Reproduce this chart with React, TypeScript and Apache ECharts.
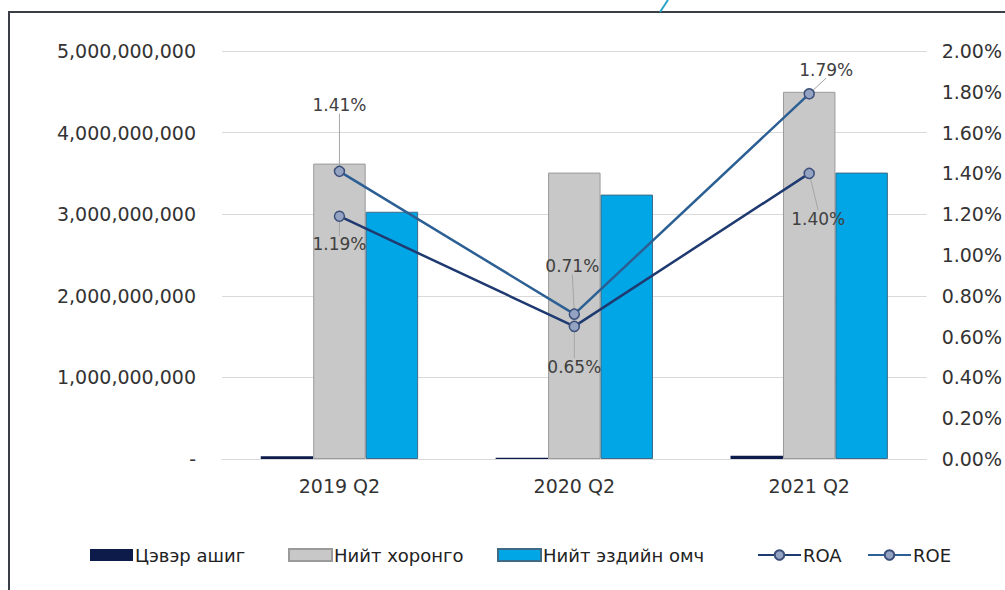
import React, { useEffect, useRef } from "react";
import * as echarts from "echarts";

const categories = ["2019 Q2", "2020 Q2", "2021 Q2"];
const netProfit = [35000000, 15000000, 40000000];
const totalAssets = [3620000000, 3510000000, 4500000000];
const totalEquity = [3030000000, 3240000000, 3510000000];
const roa = [1.19, 0.65, 1.4];
const roe = [1.41, 0.71, 1.79];
const seriesNames = ["Цэвэр ашиг", "Нийт хоронго", "Нийт эздийн омч", "ROA", "ROE"];
const legendLefts = [90, 288, 497, 757, 867];

const roeShift = [
  { dx: 0, dy: -47 },
  { dx: -2, dy: -29 },
  { dx: 17, dy: -5 },
];
const roaShift = [
  { dx: 0, dy: 9 },
  { dx: 0, dy: 21 },
  { dx: 9, dy: 26 },
];

const FONT = "'DejaVu Sans', sans-serif";

export default function App() {
  const ref = useRef<HTMLDivElement>(null);
  useEffect(() => {
    document.body.style.margin = "0";
    const chart = echarts.init(ref.current!, null, { renderer: "svg" });
    const labelCommon = {
      show: true,
      fontFamily: FONT,
      fontSize: 17,
      color: "#404040",
      formatter: (p: any) => Number(p.value).toFixed(2) + "%",
    };
    const legends = seriesNames.map((name, i) => ({
      bottom: 26,
      left: legendLefts[i],
      padding: 0,
      itemWidth: 43,
      itemHeight: 12,
      icon: i < 3 ? "rect" : undefined,
      textStyle: { fontFamily: FONT, fontSize: 18, color: "#222", padding: [0, 0, 0, -3] },
      data: [name],
    }));
    chart.setOption({
      animation: false,
      textStyle: { fontFamily: FONT },
      graphic: [
        {
          type: "rect",
          shape: { x: 9, y: 12, width: 1010, height: 600 },
          style: { fill: "none", stroke: "#3a3f47", lineWidth: 2 },
          silent: true,
          z: -1,
        },
        {
          type: "line",
          shape: { x1: 668, y1: 0, x2: 660, y2: 12 },
          style: { stroke: "#2aa6c8", lineWidth: 2 },
          silent: true,
        },
      ],
      grid: { left: 222, right: 77, top: 51, bottom: 131, containLabel: false },
      legend: legends,
      xAxis: {
        type: "category",
        data: categories,
        axisLine: { show: true, lineStyle: { color: "#d9d9d9", width: 1 } },
        axisTick: { show: false },
        axisLabel: { fontFamily: FONT, fontSize: 19, color: "#333", margin: 17 },
      },
      yAxis: [
        {
          type: "value",
          min: 0,
          max: 5000000000,
          interval: 1000000000,
          axisLine: { show: false },
          axisTick: { show: false },
          splitLine: { lineStyle: { color: "#d9d9d9", width: 1 } },
          axisLabel: {
            fontFamily: FONT,
            fontSize: 19,
            color: "#333",
            margin: 26,
            formatter: (v: number) => (v === 0 ? "-" : v.toLocaleString("en-US")),
          },
        },
        {
          type: "value",
          min: 0,
          max: 2,
          interval: 0.2,
          axisLine: { show: false },
          axisTick: { show: false },
          splitLine: { show: false },
          axisLabel: {
            fontFamily: FONT,
            fontSize: 19,
            color: "#333",
            margin: 15,
            formatter: (v: number) => v.toFixed(2) + "%",
          },
        },
      ],
      series: [
        {
          name: seriesNames[0],
          type: "bar",
          data: netProfit,
          barGap: "0%",
          barCategoryGap: "33%",
          itemStyle: { color: "#0d1b4a" },
        },
        {
          name: seriesNames[1],
          type: "bar",
          data: totalAssets,
          itemStyle: { color: "#c8c8c8", borderColor: "#9a9a9a", borderWidth: 1 },
        },
        {
          name: seriesNames[2],
          type: "bar",
          data: totalEquity,
          itemStyle: { color: "#00a6e6", borderColor: "#3f6a86", borderWidth: 1 },
        },
        {
          name: seriesNames[3],
          type: "line",
          yAxisIndex: 1,
          data: roa,
          symbol: "circle",
          symbolSize: 10,
          lineStyle: { color: "#1f3a70", width: 2.5 },
          itemStyle: { color: "#95a3c2", borderColor: "#3b4f7a", borderWidth: 1.5 },
          label: { ...labelCommon, position: "bottom" },
          labelLine: { show: true, lineStyle: { color: "#a6a6a6", width: 1 } },
          labelLayout: (p: any) => roaShift[p.dataIndex],
          z: 5,
        },
        {
          name: seriesNames[4],
          type: "line",
          yAxisIndex: 1,
          data: roe,
          symbol: "circle",
          symbolSize: 10,
          lineStyle: { color: "#2c5f93", width: 2.5 },
          itemStyle: { color: "#95a3c2", borderColor: "#3b4f7a", borderWidth: 1.5 },
          label: { ...labelCommon, position: "top" },
          labelLine: { show: true, lineStyle: { color: "#a6a6a6", width: 1 } },
          labelLayout: (p: any) => roeShift[p.dataIndex],
          z: 6,
        },
      ],
    });
    return () => chart.dispose();
  }, []);
  return <div ref={ref} style={{ width: 1005, height: 590 }} />;
}
